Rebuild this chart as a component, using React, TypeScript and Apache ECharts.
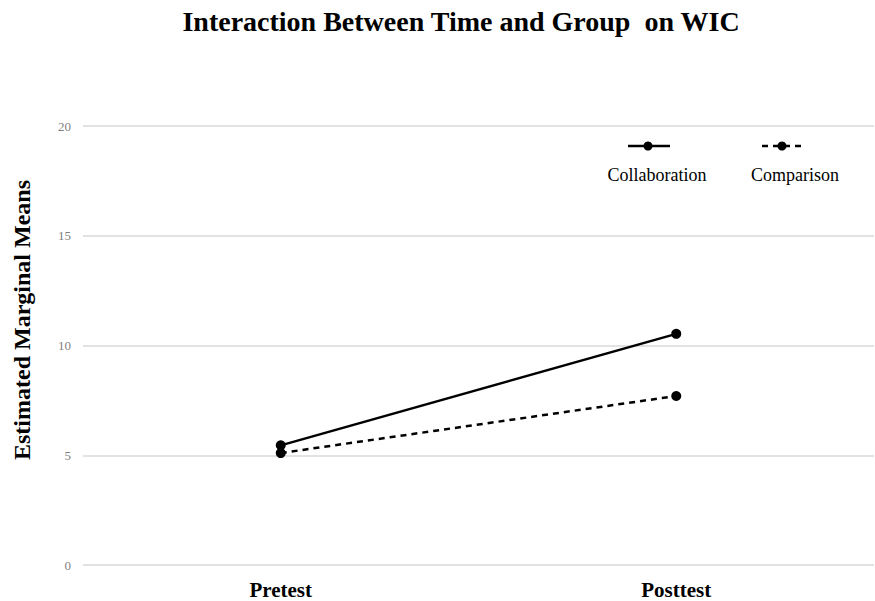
import React, { useEffect, useRef } from "react";
import * as echarts from "echarts";

const categories = ["Pretest", "Posttest"];
const collaboration = [5.45, 10.53];
const comparison = [5.1, 7.7];
const yTicks = [0, 5, 10, 15, 20];

const SERIF = "'Liberation Serif', 'Times New Roman', serif";

export default function App() {
  const ref = useRef<HTMLDivElement>(null);
  useEffect(() => {
    if (!ref.current) return;
    const chart = echarts.init(ref.current, null, { renderer: "svg" });
    chart.setOption({
      animation: false,
      backgroundColor: "#ffffff",
      title: {
        text: "Interaction Between Time and Group  on WIC",
        left: 456,
        top: 2,
        textAlign: "center",
        textStyle: { fontFamily: SERIF, fontWeight: "bold", fontSize: 28, color: "#000" },
      },
      grid: { left: 83, right: 1, top: 126, bottom: 36, containLabel: false },
      xAxis: {
        type: "category",
        data: categories,
        boundaryGap: true,
        axisLine: { show: false },
        axisTick: { show: false },
        axisLabel: {
          margin: 14,
          fontFamily: SERIF,
          fontWeight: "bold",
          fontSize: 21,
          color: "#000",
        },
      },
      yAxis: {
        type: "value",
        min: yTicks[0],
        max: yTicks[yTicks.length - 1],
        interval: 5,
        axisLine: { show: false },
        axisTick: { show: false },
        axisLabel: { margin: 12, fontFamily: SERIF, fontSize: 13, color: "#7f7f7f" },
        splitLine: { lineStyle: { color: "#d9d9d9", width: 1.5 } },
      },
      graphic: [
        {
          type: "text",
          x: 22,
          y: 320,
          rotation: Math.PI / 2,
          style: {
            text: "Estimated Marginal Means",
            fontFamily: SERIF,
            fontWeight: "bold",
            fontSize: 24,
            fill: "#000",
            align: "center",
            verticalAlign: "middle",
          },
        },
        { type: "line", shape: { x1: 628, y1: 146, x2: 670, y2: 146 }, style: { stroke: "#000", lineWidth: 2.5 } },
        { type: "circle", shape: { cx: 648, cy: 146, r: 4.5 }, style: { fill: "#000" } },
        {
          type: "text",
          x: 657,
          y: 175,
          style: { text: "Collaboration", fontFamily: SERIF, fontSize: 18, fill: "#000", align: "center", verticalAlign: "middle" },
        },
        { type: "line", shape: { x1: 762, y1: 146, x2: 806, y2: 146 }, style: { stroke: "#000", lineWidth: 2.5, lineDash: [6, 5] } },
        { type: "circle", shape: { cx: 782, cy: 146, r: 4.5 }, style: { fill: "#000" } },
        {
          type: "text",
          x: 795,
          y: 175,
          style: { text: "Comparison", fontFamily: SERIF, fontSize: 18, fill: "#000", align: "center", verticalAlign: "middle" },
        },
      ],
      series: [
        {
          name: "Collaboration",
          type: "line",
          data: collaboration,
          symbol: "circle",
          symbolSize: 10,
          lineStyle: { color: "#000", width: 2.5, type: "solid" },
          itemStyle: { color: "#000" },
        },
        {
          name: "Comparison",
          type: "line",
          data: comparison,
          symbol: "circle",
          symbolSize: 10,
          lineStyle: { color: "#000", width: 2.5, type: [6, 5] },
          itemStyle: { color: "#000" },
        },
      ],
    });
    return () => chart.dispose();
  }, []);
  return (
    <div
      ref={ref}
      style={{ position: "fixed", left: 0, top: 0, width: 875, height: 601 }}
    />
  );
}
